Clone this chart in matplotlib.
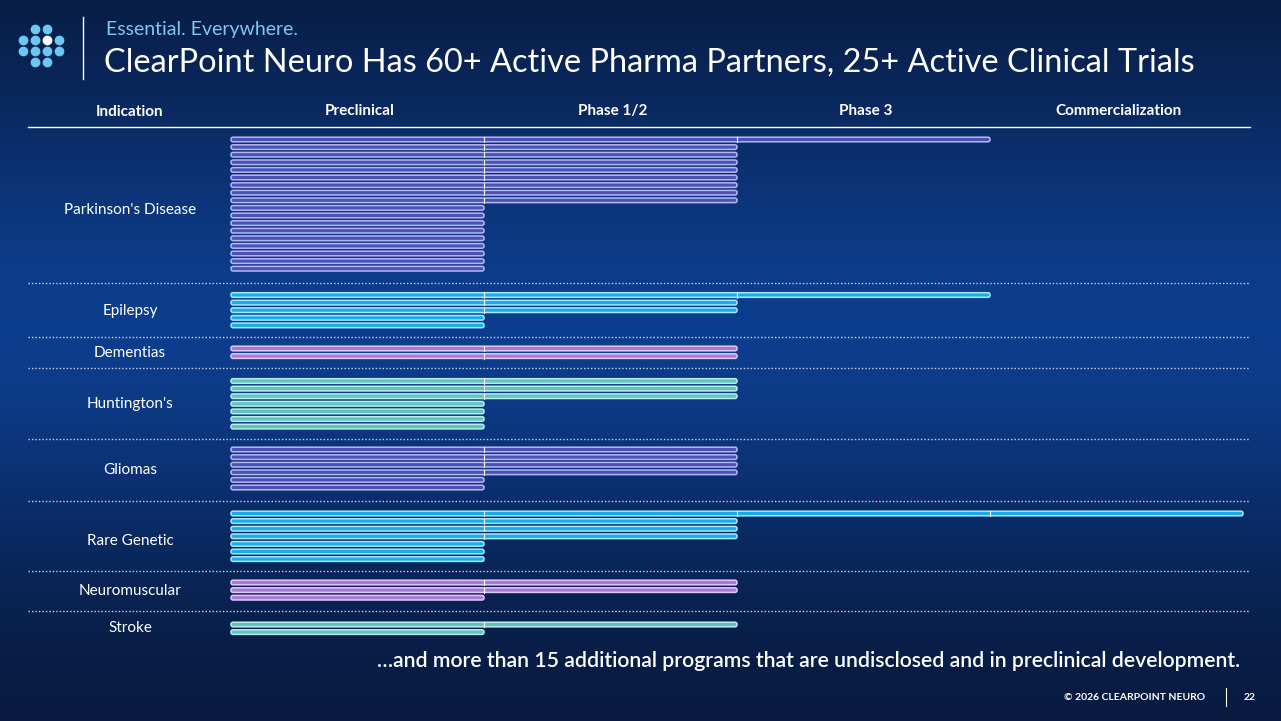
import numpy as np
import matplotlib.pyplot as plt
from matplotlib.patches import FancyBboxPatch

W, H = 1281, 721
stage_x = [231, 484, 737, 990, 1243]
stages = ["Preclinical", "Phase 1/2", "Phase 3", "Commercialization"]

# indication, label y, first bar y, stages reached per program, fill, edge
groups = [
    ("Parkinson's Disease", 210, 139.5, [3] + [2] * 8 + [1] * 9, "#4c50b8", "#b4b8f2"),
    ("Epilepsy", 311, 295, [3, 2, 2, 1, 1], "#18ace6", "#a6e6ff"),
    ("Dementias", 353, 348.5, [2, 2], "#a878d6", "#e2c8f6"),
    ("Huntington's", 404, 381, [2, 2, 2, 1, 1, 1, 1], "#5ec2bf", "#b8ece8"),
    ("Gliomas", 470, 449.5, [2, 2, 2, 2, 1, 1], "#4c50b8", "#b4b8f2"),
    ("Rare Genetic", 541, 513.5, [4, 2, 2, 2, 1, 1, 1], "#18ace6", "#a6e6ff"),
    ("Neuromuscular", 591, 582.5, [2, 2, 1], "#a878d6", "#e2c8f6"),
    ("Stroke", 628, 624.5, [2, 1], "#5ec2bf", "#b8ece8"),
]
separators = [283, 337, 368, 439, 501, 571, 611]
step = 7.6

fig = plt.figure(figsize=(W / 100, H / 100), dpi=100)
ax = fig.add_axes([0, 0, 1, 1])
ax.set_xlim(0, W)
ax.set_ylim(H, 0)
ax.axis("off")

# background gradient
yy = np.linspace(0, 1, 200)[:, None]
prof = np.exp(-((yy - 0.45) / 0.35) ** 2)
top = np.array([0.03, 0.09, 0.22])
mid = np.array([0.05, 0.24, 0.55])
img = top + (mid - top) * prof[..., None]
img = np.repeat(img, 2, axis=1)
ax.imshow(img, extent=[0, W, H, 0], aspect="auto", zorder=0)

# logo
for r, cols in enumerate([[1, 2], [0, 1, 2, 3], [0, 1, 2, 3], [1, 2]]):
    for c in cols:
        col = "white" if (r, c) == (1, 2) else "#6cc8f0"
        ax.scatter(23 + c * 12, 29 + r * 11, s=36, color=col, zorder=3)
ax.plot([83, 83], [17, 79], color="white", lw=1)
ax.text(106, 30, "Essential. Everywhere.", color="#7ec8ee", fontsize=14,
        family="Lato", va="center")
ax.text(104, 63, "ClearPoint Neuro Has 60+ Active Pharma Partners, 25+ Active Clinical Trials",
        color="white", fontsize=23.4, family="Lato", va="center")

# header
ax.text(130, 112, "Indication", color="white", fontsize=11, family="Lato",
        ha="center", va="center", weight="bold")
for i, s in enumerate(stages):
    ax.text((stage_x[i] + stage_x[i + 1]) / 2 + 2, 111, s, color="white", fontsize=11,
            family="Lato", ha="center", va="center", weight="bold")
ax.plot([28, 1250], [127, 127], color="white", lw=1)

for y in separators:
    ax.plot([28, 1250], [y, y], color="#c8d4f0", lw=1, ls=(0, (1, 1.5)))

for name, ly, y0, reach, fill, edge in groups:
    ax.text(130, ly, name, color="white", fontsize=11, family="Lato",
            ha="center", va="center")
    for k, n in enumerate(reach):
        y = y0 + k * step
        x0, x1 = stage_x[0], stage_x[n]
        ax.add_patch(FancyBboxPatch((x0, y - 2.3), x1 - x0, 4.6,
                                    boxstyle="round,pad=0,rounding_size=2",
                                    fc=fill, ec=edge, lw=1.1, zorder=2))
        for j in range(1, n):
            ax.plot([stage_x[j], stage_x[j]], [y - 2.6, y + 2.6], color="white",
                    lw=0.8, zorder=3)

ax.text(1240, 661, "…and more than 15 additional programs that are undisclosed and in preclinical development.",
        color="white", fontsize=15.3, family="Lato", ha="right", va="center", weight="semibold")
ax.text(1205, 697, "© 2026 CLEARPOINT NEURO", color="white", fontsize=7.5,
        family="Lato", ha="right", va="center", weight="bold")
ax.plot([1226, 1226], [688, 706], color="white", lw=0.8)
ax.text(1250, 697, "22", color="white", fontsize=7.5, family="Lato",
        ha="center", va="center", weight="bold")

fig.savefig("out.png", dpi=100)
